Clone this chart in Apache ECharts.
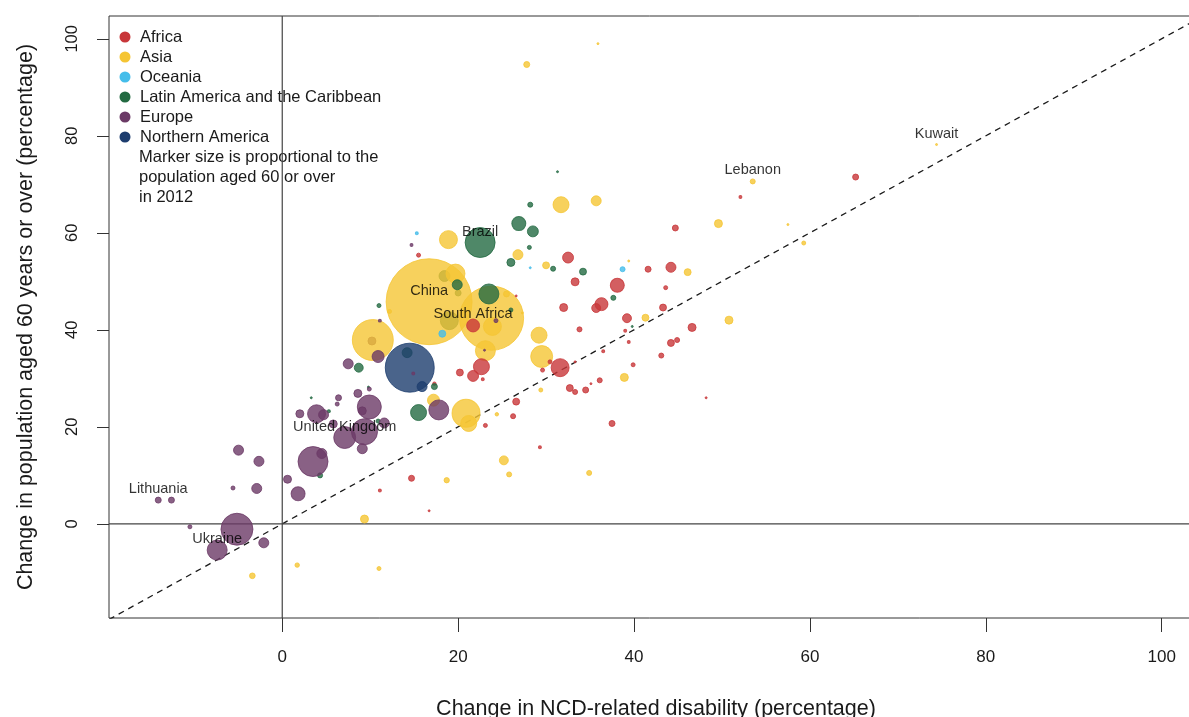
<!DOCTYPE html>
<html><head><meta charset="utf-8">
<script src="https://cdn.jsdelivr.net/npm/echarts@6/dist/echarts.min.js"></script>
<style>html,body{margin:0;padding:0;background:#fff}#c{width:1189px;height:717px}</style>
</head><body><div id="c"></div>
<script>
// ---- data: [x = change in NCD disability %, y = change in 60+ population %, pop60 (millions), label]
const xTicks = [0, 20, 40, 60, 80, 100];
const yTicks = [0, 20, 40, 60, 80, 100];
const xRange = [-19.7, 104.7];
const yRange = [-19.4, 104.7];

const africa = [
  [21.7,40.9,4.2,'South Africa'],[22.65,32.4,6.4],[21.7,30.5,3.0],[20.2,31.2,1.2],[22.8,29.8,0.22],
  [17.3,28.9,0.3],[15.5,55.4,0.4],[26.6,47.0,0.1],[26.6,25.2,1.2],[26.25,22.2,0.63],[23.1,20.3,0.4],
  [14.7,9.4,0.9],[11.1,6.9,0.22],[16.7,2.7,0.1],[32.5,54.9,3.0],[33.3,49.9,1.6],[41.6,52.5,0.9],
  [44.2,52.9,2.5],[44.7,61.0,0.9],[38.1,49.2,4.9],[43.6,48.7,0.4],[32.0,44.6,1.6],[36.3,45.3,4.2],
  [35.7,44.5,2.0],[43.3,44.6,1.2],[39.2,42.4,2.0],[33.8,40.1,0.63],[39.0,39.8,0.22],[39.4,37.5,0.22],
  [44.2,37.3,1.2],[44.9,37.9,0.63],[43.1,34.7,0.63],[39.9,32.8,0.4],[31.6,32.2,8.1],[36.5,35.6,0.22],
  [46.6,40.5,1.6],[30.45,33.4,0.4],[29.6,31.7,0.4],[33.3,33.4,0.1],[36.1,29.6,0.63],[35.1,28.9,0.1],
  [32.7,28.0,1.2],[33.3,27.2,0.63],[34.5,27.6,0.9],[37.5,20.7,0.9],[48.2,26.0,0.1],[29.3,15.8,0.22],
  [52.1,67.4,0.22],[65.2,71.5,0.9]
];
const asia = [
  [16.7,45.8,185,'China'],[23.8,42.4,103],[10.3,37.9,42],[20.9,22.8,19.6],[29.5,34.5,12],
  [19.7,51.6,9],[23.1,35.7,10],[18.9,58.6,8.1],[23.9,40.7,8.1],[21.2,20.7,6.4],[31.7,65.8,6.4],
  [29.2,38.9,6.4],[17.2,25.5,3.6],[24.4,22.6,0.3],[25.2,13.1,2.0],[25.8,10.2,0.63],[18.7,9.0,0.7],
  [9.35,1.0,1.6],[1.7,-8.5,0.5],[11.0,-9.2,0.4],[-3.4,-10.7,0.8],[35.7,66.6,2.5],[26.8,55.5,2.5],
  [30.0,53.3,1.2],[39.4,54.2,0.1],[41.3,42.5,1.2],[38.9,30.2,1.6],[46.1,51.9,1.2],[50.8,42.0,1.6],
  [49.6,61.9,1.6],[53.5,70.6,0.63,'Lebanon'],[57.5,61.7,0.1],[59.3,57.9,0.4],[74.4,78.2,0.1,'Kuwait'],
  [35.9,99.0,0.1],[27.8,94.7,0.9],[29.4,27.6,0.4],[34.9,10.5,0.63],[12.2,43.8,0.4],[25.5,47.4,0.9],
  [27.3,43.5,0.1]
];
const oceania = [[18.2,39.2,1.2],[15.3,59.9,0.22],[38.7,52.5,0.63],[28.2,52.8,0.1]];
const latamUnder = [[18.45,51.1,3.0],[20.0,47.6,0.9],[19.0,41.9,8.1],[14.2,35.3,2.5]];
const latam = [
  [22.5,58.0,22.5,'Brazil'],[23.5,47.4,10],[19.9,49.3,2.5],[26.0,44.1,0.4],[11.0,45.0,0.4],
  [8.7,32.2,2.0],[17.3,28.3,0.9],[15.5,22.95,6.4],[10.9,21.2,0.4],[4.3,10.0,0.63],[5.3,23.2,0.22],
  [3.3,26.0,0.1],[9.8,28.2,0.1],[28.2,65.8,0.63],[26.9,61.9,4.9],[28.5,60.3,3.0],[28.1,57.0,0.4],
  [26.0,53.9,1.6],[30.8,52.6,0.63],[34.2,52.0,1.2],[37.65,46.6,0.63],[31.3,72.6,0.1],[39.8,40.7,0.1]
];
const europeUnder = [[10.2,37.7,1.6]];
const europe = [
  [-14.1,4.9,0.9,'Lithuania'],[-12.6,4.9,0.9],[-4.97,15.2,2.5],[-2.65,12.9,2.5],[-5.6,7.4,0.4],
  [-2.9,7.3,2.5],[-10.5,-0.6,0.4],[-5.15,-1.1,25.6],[-7.4,-5.4,10,'Ukraine'],[-2.1,-3.9,2.5],
  [0.6,9.2,1.6],[1.8,6.2,4.9],[3.5,12.85,22.5],[4.5,14.5,2.5],[2.0,22.7,1.6],[3.9,22.7,8.1],
  [4.7,22.5,2.5],[6.25,24.7,0.4],[9.9,24.1,14.4],[9.1,23.3,1.6],[7.1,17.8,12,'United Kingdom'],
  [9.35,19.0,17],[9.1,15.5,2.5],[5.8,20.6,1.6],[11.6,20.8,2.5],[17.8,23.5,10],[7.5,33.0,2.5],
  [10.9,34.5,3.6],[14.9,31.0,0.22],[8.6,26.9,1.6],[9.9,27.8,0.4],[6.4,26.0,0.9],[14.7,57.5,0.22],
  [11.1,41.9,0.22],[24.3,41.9,0.4],[23.0,35.8,0.1]
];
const namerica = [[14.5,32.2,60],[15.9,28.3,2.5]];

const colors = {
  'Africa': '#c8373a',
  'Asia': '#f5c534',
  'Oceania': '#45bdea',
  'Latin America and the Caribbean': '#236a42',
  'Europe': '#6b3a66',
  'Northern America': '#1d3d6e'
};
const legendOrder = ['Africa','Asia','Oceania','Latin America and the Caribbean','Europe','Northern America'];
const FONT = 'Liberation Sans, Arial, Helvetica, sans-serif';

function bubble(name, data, z) {
  return {
    type: 'scatter', name: name, data: data, z: z,
    symbolSize: d => 6.32 * Math.sqrt(d[2]),
    itemStyle: { color: colors[name], opacity: 0.8, borderColor: colors[name], borderWidth: 1 },
    label: {
      show: true, position: 'inside',
      formatter: p => p.data[3] || '',
      color: '#000', fontSize: 14.5, fontFamily: FONT
    },
    labelLayout: p => ({
      x: p.rect.x + p.rect.width / 2,
      y: p.rect.y + p.rect.height / 2 - 11,
      align: 'center', verticalAlign: 'middle', hideOverlap: false
    }),
    emphasis: { disabled: true },
    silent: true, animation: false
  };
}

const chart = echarts.init(document.getElementById('c'), null, { renderer: 'canvas' });
chart.setOption({
  animation: false,
  backgroundColor: '#fff',
  textStyle: { fontFamily: FONT },
  grid: { left: 109, right: -14, top: 16, bottom: 99, outerBoundsMode: 'none', containLabel: false,
          show: true, borderColor: '#333', borderWidth: 1, backgroundColor: 'transparent' },
  xAxis: {
    type: 'value', min: xRange[0], max: xRange[1],
    axisLine: { show: false, onZero: false },
    axisTick: { show: true, length: 14, lineStyle: { color: '#333' }, customValues: xTicks },
    axisLabel: { fontSize: 17, color: '#1a1a1a', margin: 31, customValues: xTicks },
    splitLine: { show: false },
    name: 'Change in NCD-related disability (percentage)', nameLocation: 'middle', nameGap: 80,
    nameTextStyle: { fontSize: 21.5, color: '#1a1a1a' }
  },
  yAxis: {
    type: 'value', min: yRange[0], max: yRange[1],
    axisLine: { show: false, onZero: false },
    axisTick: { show: true, length: 12, lineStyle: { color: '#333' }, customValues: yTicks },
    axisLabel: { fontSize: 16.5, color: '#1a1a1a', margin: 28, rotate: 90, customValues: yTicks },
    splitLine: { show: false },
    name: 'Change in population aged 60 years or over (percentage)', nameLocation: 'middle', nameGap: 72,
    nameTextStyle: { fontSize: 21.5, color: '#1a1a1a' }
  },
  legend: {
    left: 119.5, top: 28.5, padding: 0, orient: 'vertical', icon: 'circle', itemWidth: 9, itemHeight: 9, itemGap: 3,
    itemStyle: { opacity: 1 },
    textStyle: { fontSize: 16.5, color: '#1a1a1a', lineHeight: 17, padding: [0, 0, 0, 5.5] },
    data: legendOrder, selectedMode: false
  },
  graphic: [{
    type: 'text', left: 139, top: 147, silent: true,
    style: { text: 'Marker size is proportional to the\npopulation aged 60 or over\nin 2012', fontSize: 16.5, lineHeight: 20, fill: '#1a1a1a', font: '16.5px ' + FONT }
  }],
  series: [
    { type: 'line', name: 'ref', data: [[xRange[0], xRange[0]], [xRange[1], xRange[1]]], showSymbol: false, symbol: 'none', z: 1,
      lineStyle: { color: '#1a1a1a', width: 1.3, type: [6, 5] }, silent: true, animation: false },
    { type: 'line', name: 'x0', data: [[0, yRange[0]], [0, yRange[1]]], symbol: 'none', z: 1,
      lineStyle: { color: '#444', width: 1.2 }, silent: true, animation: false },
    { type: 'line', name: 'y0', data: [[xRange[0], 0], [xRange[1], 0]], symbol: 'none', z: 1,
      lineStyle: { color: '#444', width: 1.2 }, silent: true, animation: false },
    bubble('Latin America and the Caribbean', latamUnder, 2),
    bubble('Europe', europeUnder, 2),
    bubble('Asia', asia, 3),
    bubble('Northern America', namerica, 4),
    bubble('Africa', africa, 5),
    bubble('Latin America and the Caribbean', latam, 5),
    bubble('Europe', europe, 5),
    bubble('Oceania', oceania, 6)
  ]
});
</script></body></html>
